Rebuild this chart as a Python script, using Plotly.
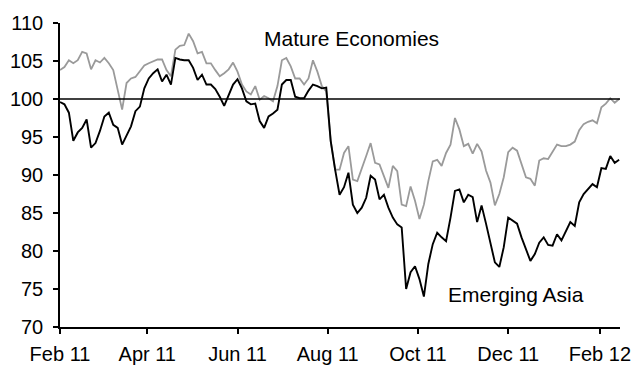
import pandas as pd
import plotly.graph_objects as go

# Index levels, sampled every third calendar day from 1 Feb 2011
mature_economies = [
    103.8, 104.2, 105.1, 104.7, 105.1, 106.2, 106.0, 103.9, 105.1, 104.8,
    105.4, 104.7, 103.8, 101.4, 98.6, 102.1, 102.7, 102.9, 103.6, 104.4,
    104.7, 105.0, 105.2, 105.2, 103.8, 103.0, 106.5, 107.0, 107.1, 108.6,
    107.6, 106.0, 106.2, 104.7, 104.7, 103.8, 103.0, 103.4, 103.9, 104.8,
    103.6, 101.9, 101.0, 100.6, 101.7, 99.9, 100.4, 100.1, 99.7, 101.7,
    105.1, 105.4, 104.3, 102.7, 102.7, 101.9, 102.7, 105.1, 103.6, 101.7,
    101.0, 94.5, 90.7, 90.7, 92.9, 93.8, 89.4, 89.2, 91.0, 92.5,
    94.2, 91.6, 91.4, 89.8, 88.3, 91.2, 90.5, 86.1, 85.9, 88.5,
    86.6, 84.2, 86.1, 89.2, 91.8, 92.0, 91.2, 92.9, 94.0, 97.5,
    96.0, 93.8, 94.1, 92.8, 94.1, 93.1, 90.6, 89.0, 86.0, 87.5,
    89.7, 93.0, 93.6, 93.2, 91.4, 89.7, 89.5, 88.6, 91.9, 92.2,
    92.1, 93.1, 94.0, 93.8, 93.8, 94.0, 94.4, 95.9, 96.7, 97.0,
    97.2, 96.8, 98.9, 99.4, 100.1, 99.5, 100.0,
]

emerging_asia = [
    99.6, 99.3, 98.2, 94.5, 95.6, 96.2, 97.3, 93.6, 94.2, 95.8,
    97.7, 98.2, 96.6, 96.2, 94.0, 95.3, 96.4, 98.4, 99.0, 101.4,
    102.7, 103.4, 103.9, 102.3, 103.2, 101.9, 105.4, 105.2, 105.1, 105.1,
    104.1, 102.5, 103.2, 101.9, 101.9, 101.3, 100.3, 99.1, 100.4, 101.9,
    102.6, 101.4, 99.7, 99.3, 99.4, 97.1, 96.2, 97.7, 98.1, 98.6,
    101.9, 102.5, 102.5, 100.3, 100.1, 100.1, 101.1, 101.9, 101.7, 101.4,
    101.5, 94.5, 90.7, 87.4, 88.4, 90.3, 86.1, 85.0, 85.7, 87.0,
    89.9, 89.4, 86.8, 87.4, 85.7, 84.4, 83.5, 83.1, 75.0, 77.2,
    78.0, 76.3, 74.0, 78.3, 80.9, 82.4, 81.8, 81.3, 84.4, 87.9,
    88.1, 86.4, 87.4, 87.1, 83.8, 86.0, 83.6, 81.1, 78.5, 77.9,
    80.5, 84.4, 84.0, 83.6, 81.8, 80.3, 78.7, 79.6, 81.1, 81.8,
    80.8, 80.7, 82.2, 81.4, 82.7, 83.8, 83.3, 86.4, 87.5, 88.1,
    88.8, 88.4, 90.9, 90.8, 92.5, 91.6, 92.0,
]

dates = pd.date_range("2011-02-01", periods=len(emerging_asia), freq="3D")

tick_dates = ["2011-02-01", "2011-04-01", "2011-06-01", "2011-08-01",
              "2011-10-01", "2011-12-01", "2012-02-01"]
tick_labels = ["Feb 11", "Apr 11", "Jun 11", "Aug 11", "Oct 11", "Dec 11", "Feb 12"]
y_ticks = [70, 75, 80, 85, 90, 95, 100, 105, 110]

FONT = "Liberation Sans, Arial, Helvetica, sans-serif"

fig = go.Figure()
fig.add_trace(go.Scatter(x=dates, y=mature_economies, mode="lines",
                         line=dict(color="#9a9a9a", width=1.8),
                         name="Mature Economies"))
fig.add_trace(go.Scatter(x=dates, y=emerging_asia, mode="lines",
                         line=dict(color="#000000", width=1.9),
                         name="Emerging Asia"))

# Reference level at 100
fig.add_shape(type="line", xref="paper", x0=0, x1=1, yref="y", y0=100, y1=100,
              line=dict(color="#000000", width=1.5))

fig.add_annotation(x="2011-08-17", y=108.0, text="Mature Economies",
                   showarrow=False, xanchor="center", yanchor="middle",
                   font=dict(family=FONT, size=21, color="#000000"))
fig.add_annotation(x="2011-12-06", y=74.3, text="Emerging Asia",
                   showarrow=False, xanchor="center", yanchor="middle",
                   font=dict(family=FONT, size=21, color="#000000"))

fig.update_layout(
    width=639, height=367,
    margin=dict(l=60, r=19, t=23, b=40),
    paper_bgcolor="#ffffff", plot_bgcolor="#ffffff",
    showlegend=False,
    font=dict(family=FONT, size=20, color="#000000"),
)
fig.update_xaxes(
    type="date", range=["2011-02-01", "2012-02-14 14:00"],
    tickmode="array", tickvals=tick_dates, ticktext=tick_labels,
    showgrid=False, zeroline=False, automargin=False,
    showline=True, linecolor="#000000", linewidth=1.5,
    ticks="outside", ticklen=5, tickwidth=1.5, tickcolor="#000000",
    ticklabelstandoff=3,
)
fig.update_yaxes(
    range=[70, 110], tickmode="array", tickvals=y_ticks,
    showgrid=False, zeroline=False, automargin=False,
    showline=True, linecolor="#000000", linewidth=1.5,
    ticks="outside", ticklen=5, tickwidth=1.5, tickcolor="#000000",
    ticklabelstandoff=6,
)

fig.write_html("out.html")
